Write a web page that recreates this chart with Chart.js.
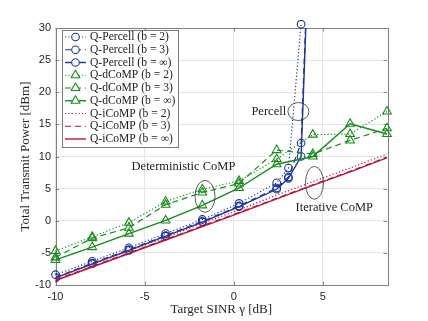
<!DOCTYPE html>
<html>
<head>
<meta charset="utf-8">
<script src="https://cdn.jsdelivr.net/npm/chart.js@4/dist/chart.umd.min.js"></script>
<style>
  html, body { margin: 0; padding: 0; background: #fff; }
  #wrap { width: 428px; height: 321px; }
</style>
</head>
<body>
<div id="wrap"><canvas id="powerChart"></canvas></div>
<script>
// tick labels
const xTicks = [-10, -5, 0, 5];
const yTicks = [-10, -5, 0, 5, 10, 15, 20, 25, 30];

// target SINR points (dB)
const sinrPercell = [-10, -7.94, -5.88, -3.82, -1.76, 0.3, 2.41, 3.07, 3.78, 4.44];
const sinrComp = [-10, -7.94, -5.88, -3.82, -1.76, 0.3, 2.41, 4.44, 6.53, 8.6];

// total transmit power (dBm)
const percellB2 = [-8.4, -6.3, -4.2, -2.0, 0.2, 2.7, 5.9, 8.2, 30.6];
const percellB3 = [-8.8, -6.6, -4.5, -2.3, -0.1, 2.3, 5.1, 6.8, 12.1, 60];
const percellInf = [-8.9, -6.7, -4.6, -2.4, -0.2, 2.2, 4.9, 6.6, 10.0, 60];
const dcompB2 = [-4.7, -2.5, -0.3, 3.0, 4.9, 6.2, 9.6, 13.4, 13.5, 17.0];
const dcompB3 = [-5.7, -2.7, -1.1, 2.5, 4.4, 5.8, 11.0, 10.4, 12.5, 14.4];
const dcompInf = [-6.1, -4.1, -2.0, 0.05, 2.4, 5.1, 8.8, 10.0, 15.1, 13.5];
const icompB2 = [-8.9, -6.8, -4.7, -2.6, -0.4, 1.7, 4.0, 6.1, 8.2, 10.4];
const icompB3 = [-9.2, -7.1, -5.0, -2.9, -0.8, 1.3, 3.5, 5.6, 7.7, 9.9];
const icompInf = [-9.3, -7.2, -5.1, -3.0, -0.9, 1.2, 3.4, 5.5, 7.6, 9.8];

const BLUE = '#1a359e';
const GREEN = '#178a1c';
const RED = '#b3163c';
const DOT = [1.2, 2.2];
const DASH = [6, 4];

function pts(xs, ys) {
  return ys.map((y, i) => ({ x: xs[i], y: y }));
}

function series(label, xs, ys, color, dash, marker, extra) {
  return Object.assign({
    label: label,
    data: pts(xs, ys),
    showLine: true,
    borderColor: color,
    backgroundColor: 'rgba(0,0,0,0)',
    borderWidth: dash.length ? 1.2 : 1.4,
    borderDash: dash,
    pointStyle: marker || 'circle',
    pointRadius: marker === 'triangle' ? 5 : (marker ? 3.8 : 0),
    pointBorderColor: color,
    pointBackgroundColor: 'rgba(0,0,0,0)',
    pointBorderWidth: 1.1,
    tension: 0
  }, extra || {});
}

const datasets = [
  series('Q-Percell (b = 2)', sinrPercell, percellB2, BLUE, DOT, 'circle', { clip: { left: 6, top: 8, right: 6, bottom: 6 } }),
  series('Q-Percell (b = 3)', sinrPercell, percellB3, BLUE, DASH, 'circle'),
  series('Q-Percell (b = ∞)', sinrPercell, percellInf, BLUE, [], 'circle'),
  series('Q-dCoMP (b = 2)', sinrComp, dcompB2, GREEN, DOT, 'triangle', { clip: 8 }),
  series('Q-dCoMP (b = 3)', sinrComp, dcompB3, GREEN, DASH, 'triangle', { clip: 8 }),
  series('Q-dCoMP (b = ∞)', sinrComp, dcompInf, GREEN, [], 'triangle', { clip: 8 }),
  series('Q-iCoMP (b = 2)', sinrComp, icompB2, RED, DOT, null),
  series('Q-iCoMP (b = 3)', sinrComp, icompB3, RED, DASH, null),
  series('Q-iCoMP (b = ∞)', sinrComp, icompInf, RED, [], null)
];
// later series on top, like the original plot
datasets.forEach((d, i) => { d.order = datasets.length - i; });

const serif = 'Liberation Serif';

// frame with inward tick marks
const framePlugin = {
  id: 'frame',
  beforeDatasetsDraw(chart) {
    const { ctx, chartArea: a, scales } = chart;
    ctx.save();
    ctx.strokeStyle = '#808080';
    ctx.lineWidth = 1;
    ctx.beginPath();
    xTicks.forEach(v => {
      const px = Math.round(scales.x.getPixelForValue(v)) + 0.5;
      ctx.moveTo(px, a.bottom); ctx.lineTo(px, a.bottom - 3.5);
      ctx.moveTo(px, a.top); ctx.lineTo(px, a.top + 3.5);
    });
    yTicks.forEach(v => {
      const py = Math.round(scales.y.getPixelForValue(v)) + 0.5;
      ctx.moveTo(a.left, py); ctx.lineTo(a.left + 3.5, py);
      ctx.moveTo(a.right, py); ctx.lineTo(a.right - 3.5, py);
    });
    ctx.stroke();
    ctx.strokeRect(Math.round(a.left) + 0.5, Math.round(a.top) + 0.5,
      Math.round(a.right - a.left), Math.round(a.bottom - a.top));
    ctx.restore();
  }
};

// ellipses and labels
const notesPlugin = {
  id: 'notes',
  afterDatasetsDraw(chart) {
    const { ctx, scales } = chart;
    const X = v => scales.x.getPixelForValue(v);
    const Y = v => scales.y.getPixelForValue(v);
    ctx.save();
    ctx.strokeStyle = '#333';
    ctx.lineWidth = 0.8;
    [[3.63, 17.0, 10.5, 9], [-1.61, 3.8, 10, 16], [4.53, 5.9, 9, 16.5]].forEach(e => {
      ctx.beginPath();
      ctx.ellipse(X(e[0]), Y(e[1]), e[2], e[3], 0, 0, Math.PI * 2);
      ctx.stroke();
    });
    ctx.fillStyle = '#222';
    ctx.font = '12.5px "' + serif + '"';
    ctx.textBaseline = 'middle';
    ctx.textAlign = 'right';
    ctx.fillText('Percell', X(2.94), Y(17.0));
    ctx.textAlign = 'center';
    ctx.fillText('Deterministic CoMP', X(-2.82), Y(8.46));
    ctx.fillText('Iterative CoMP', X(5.64), Y(2.0));
    ctx.restore();
  }
};

// legend box in the upper left corner
const legendPlugin = {
  id: 'boxLegend',
  afterDraw(chart) {
    const { ctx } = chart;
    const left = 62, top = 30, w = 116, h = 117;
    ctx.save();
    ctx.fillStyle = '#fff';
    ctx.fillRect(left, top, w, h);
    ctx.strokeStyle = '#7a7a7a';
    ctx.lineWidth = 1;
    ctx.strokeRect(left + 0.5, top + 0.5, w, h);
    chart.data.datasets.forEach((d, i) => {
      const y = top + 7 + i * 12.75;
      ctx.strokeStyle = d.borderColor;
      ctx.lineWidth = d.borderWidth;
      ctx.setLineDash(d.borderDash);
      ctx.beginPath();
      ctx.moveTo(65, y); ctx.lineTo(86, y);
      ctx.stroke();
      ctx.setLineDash([]);
      if (d.pointRadius > 0) {
        ctx.lineWidth = d.pointBorderWidth;
        ctx.fillStyle = '#fff';
        ctx.beginPath();
        if (d.pointStyle === 'triangle') {
          const r = d.pointRadius;
          ctx.moveTo(75.5, y - r);
          ctx.lineTo(75.5 + r * 0.866, y + r / 2);
          ctx.lineTo(75.5 - r * 0.866, y + r / 2);
          ctx.closePath();
        } else {
          ctx.arc(75.5, y, d.pointRadius, 0, Math.PI * 2);
        }
        ctx.fill();
        ctx.stroke();
      }
      ctx.fillStyle = '#222';
      ctx.font = '11.6px "' + serif + '"';
      ctx.textBaseline = 'middle';
      ctx.textAlign = 'left';
      ctx.fillText(d.label, 90, y);
    });
    ctx.restore();
  }
};

const ctx = document.getElementById('powerChart').getContext('2d');
const powerChart = new Chart(ctx, {
  type: 'scatter',
  data: { datasets: datasets },
  options: {
    responsive: true,
    maintainAspectRatio: false,
    animation: false,
    layout: { padding: { top: 28, right: 41, left: 0, bottom: 0 } },
    scales: {
      x: {
        type: 'linear',
        min: -10,
        max: 8.6,
        afterBuildTicks: s => { s.ticks = xTicks.map(v => ({ value: v })); },
        afterFit: s => { s.height = 36; },
        grid: { color: '#e6e6e6', drawTicks: false },
        border: { display: false },
        ticks: {
          padding: 5,
          color: '#262626',
          font: { family: 'Liberation Sans', size: 11 },
          callback: v => String(v)
        },
        title: {
          display: true,
          text: 'Target SINR γ [dB]',
          color: '#262626',
          font: { family: serif, size: 13 },
          padding: { top: 0, bottom: 4 }
        }
      },
      y: {
        min: -10,
        max: 30,
        afterBuildTicks: s => { s.ticks = yTicks.map(v => ({ value: v })); },
        afterFit: s => { s.width = 55.5; },
        grid: { color: '#e6e6e6', drawTicks: false },
        border: { display: false },
        ticks: {
          padding: 4.5,
          color: '#262626',
          font: { family: 'Liberation Sans', size: 11 },
          callback: v => String(v)
        },
        title: {
          display: true,
          text: 'Total Transmit Power [dBm]',
          color: '#262626',
          font: { family: serif, size: 13 },
          padding: { top: 18, bottom: 0 }
        }
      }
    },
    plugins: {
      legend: { display: false },
      tooltip: { enabled: false }
    }
  },
  plugins: [framePlugin, notesPlugin, legendPlugin]
});
</script>
</body>
</html>
